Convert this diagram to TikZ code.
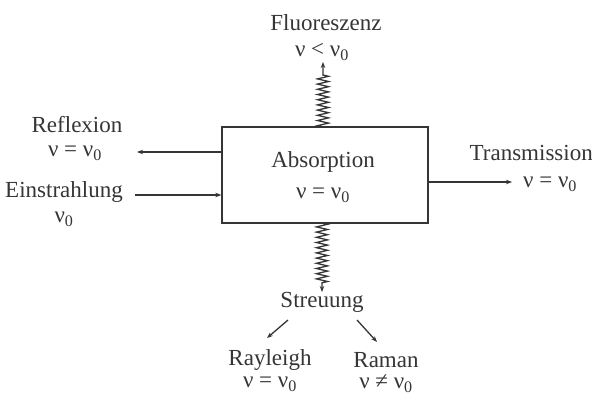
\documentclass[tikz,border=0pt]{standalone}
\usepackage{fontspec}
\setmainfont{Liberation Serif}
\usetikzlibrary{arrows.meta,decorations.pathmorphing}
\definecolor{ink}{HTML}{353535}
\tikzset{
  lbl/.style={inner sep=0pt, text=ink, font=\fontsize{23}{27}\selectfont},
  line/.style={draw=ink, line width=1.3pt},
  arr/.style={line, -{Stealth[length=6pt,width=4.5pt]}},
  wavy/.style={decorate, decoration={zigzag, segment length=5.2pt, amplitude=5.5pt}},
  probe/.style={line, minimum width=206pt, minimum height=96pt, inner sep=0pt}
}
\begin{document}
\begin{tikzpicture}[x=1pt,y=-1pt]
  \useasboundingbox (0,0) rectangle (592,395);

  % sample box with its labels
  \node[probe] (abs) at (325,175) {};
  \node[lbl] (abst)  at (323,162) {Absorption};
  \node[lbl] (absnu) at (323,195) {ν = ν\textsubscript{0}};

  % fluorescence, upwards
  \node[lbl] (fluo)   at (326,23) {Fluoreszenz};
  \node[lbl] (fluonu) at (322,52) {ν < ν\textsubscript{0}};
  \coordinate (ftop)  at (323,62);
  \coordinate (fbot)  at (323,127);
  \coordinate (fwave) at (323,75);
  \draw[arr] (fbot) decorate[wavy]{-- (fwave)} -- (ftop);

  % reflection, to the left
  \node[lbl] (refl)   at (77,125) {Reflexion};
  \node[lbl] (reflnu) at (75,153) {ν = ν\textsubscript{0}};
  \coordinate (rtip) at (137,152);
  \draw[arr] (abs.west |- rtip) -- (rtip);

  % incident light
  \node[lbl] (ein)   at (64,192) {Einstrahlung};
  \node[lbl] (einnu) at (64,219) {ν\textsubscript{0}};
  \coordinate (etail) at (135,195);
  \draw[arr] (etail) -- (abs.west |- etail);

  % transmission, to the right
  \node[lbl, anchor=east] (trans)   at (593,153) {Transmission};
  \node[lbl, anchor=west] (transnu) at (523,184) {ν = ν\textsubscript{0}};
  \coordinate (ttip) at (512,182);
  \draw[arr] (abs.east |- ttip) -- (ttip);

  % scattering, downwards
  \node[lbl] (streu) at (322,302) {Streuung};
  \coordinate (stop)  at (322,223);
  \coordinate (swave) at (322,283);
  \coordinate (stip)  at (322,292);
  \draw[arr] (stop) decorate[wavy]{-- (swave)} -- (stip);

  % Rayleigh and Raman branches
  \node[lbl] (ray)   at (270,360) {Rayleigh};
  \node[lbl] (raynu) at (270,384) {ν = ν\textsubscript{0}};
  \node[lbl] (ram)   at (386,360) {Raman};
  \node[lbl] (ramnu) at (386,384) {ν ≠ ν\textsubscript{0}};
  \coordinate (l0) at (288,320);
  \coordinate (l1) at (267,338);
  \coordinate (r0) at (357,320);
  \coordinate (r1) at (377,342);
  \draw[arr] (l0) -- (l1);
  \draw[arr] (r0) -- (r1);
\end{tikzpicture}
\end{document}
